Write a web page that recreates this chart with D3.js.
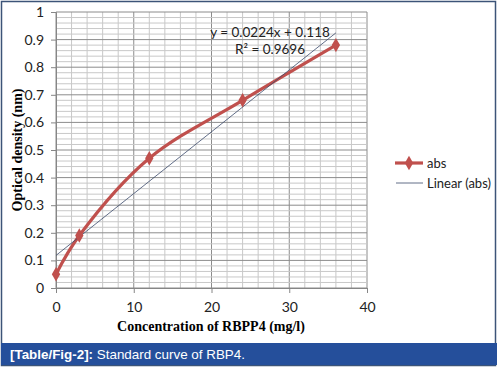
<!DOCTYPE html>
<html>
<head>
<meta charset="utf-8">
<script src="https://cdn.jsdelivr.net/npm/d3@7.9.0/dist/d3.min.js"></script>
<style>
  body { margin: 0; background: #fff; }
  svg { display: block; }
</style>
</head>
<body>
<svg id="chart" width="498" height="368"></svg>
<script>
// data
const concentration = [0, 3, 12, 24, 36];
const absorbance    = [0.05, 0.19, 0.47, 0.68, 0.88];
const xTicks        = [0, 10, 20, 30, 40];
const yTicks        = [0, 0.1, 0.2, 0.3, 0.4, 0.5, 0.6, 0.7, 0.8, 0.9, 1];
const slope         = 0.0224;
const intercept     = 0.118;
const equationLabel = 'y = 0.0224x + 0.118';
const r2Label       = 'R² = 0.9696';

const svg = d3.select('#chart');
const red = '#c0504d';

const x = d3.scaleLinear().domain([0, 40]).range([56, 367]);
const y = d3.scaleLinear().domain([0, 1]).range([288, 12]);

// outer frame + caption bar
svg.append('rect')
   .attr('x', 1.5).attr('y', 1.5).attr('width', 494).attr('height', 364)
   .attr('fill', '#fff').attr('stroke', '#3c5478').attr('stroke-width', 1.5);

svg.append('rect')
   .attr('x', 1).attr('y', 343).attr('width', 496).attr('height', 22)
   .attr('fill', '#254f9b');

const cap = svg.append('text')
   .attr('x', 10).attr('y', 359)
   .attr('font-family', 'Liberation Sans, Arial, sans-serif')
   .attr('font-size', 13.4).attr('fill', '#fff');
cap.append('tspan').attr('font-weight', 'bold').text('[Table/Fig-2]:');
cap.append('tspan').text(' Standard curve of RBP4.');

// grid
const g = svg.append('g');
g.selectAll('.vmin').data(d3.range(0, 41, 2))
  .join('line')
  .attr('x1', d => x(d)).attr('x2', d => x(d))
  .attr('y1', y(1)).attr('y2', y(0))
  .attr('stroke', d => d % 10 === 0 ? '#8c8c8c' : '#c8c8c8')
  .attr('stroke-width', 1);

g.selectAll('.hmin').data(d3.range(0, 51).map(i => i / 50))
  .join('line')
  .attr('x1', x(0)).attr('x2', x(40))
  .attr('y1', d => y(d)).attr('y2', d => y(d))
  .attr('stroke', (d, i) => i % 5 === 0 ? '#8c8c8c' : '#c8c8c8')
  .attr('stroke-width', 1);

// axes
const xAxis = svg.append('g')
  .attr('transform', `translate(0,${y(0)})`)
  .call(d3.axisBottom(x).tickValues(xTicks).tickSize(5).tickPadding(9));
const yAxis = svg.append('g')
  .attr('transform', `translate(${x(0)},0)`)
  .call(d3.axisLeft(y).tickValues(yTicks).tickSize(5).tickPadding(7)
    .tickFormat(d => d3.format('')(+d.toFixed(1))));

[xAxis, yAxis].forEach(a => {
  a.select('.domain').attr('stroke', '#868686');
  a.selectAll('.tick line').attr('stroke', '#868686');
  a.selectAll('text')
   .attr('font-family', 'Lato, Open Sans, sans-serif')
   .attr('font-size', 14).attr('fill', '#222');
});

// axis titles
svg.append('text')
   .attr('x', 211).attr('y', 331)
   .attr('text-anchor', 'middle')
   .attr('font-family', 'Liberation Serif, serif')
   .attr('font-weight', 'bold').attr('font-size', 14)
   .text('Concentration of RBPP4 (mg/l)');

svg.append('text')
   .attr('transform', 'translate(22,150) rotate(-90)')
   .attr('text-anchor', 'middle')
   .attr('font-family', 'Liberation Serif, serif')
   .attr('font-weight', 'bold').attr('font-size', 14)
   .text('Optical density (nm)');

// data series
const pts = concentration.map((c, i) => [c, absorbance[i]]);

svg.append('path')
   .datum(pts)
   .attr('d', d3.line().x(d => x(d[0])).y(d => y(d[1])).curve(d3.curveCatmullRom.alpha(0.5)))
   .attr('fill', 'none').attr('stroke', red).attr('stroke-width', 3.2);

// linear trendline
const xEnds = [0, 36];
svg.append('line')
   .attr('x1', x(xEnds[0])).attr('y1', y(slope * xEnds[0] + intercept))
   .attr('x2', x(xEnds[1])).attr('y2', y(slope * xEnds[1] + intercept))
   .attr('stroke', '#3b4a6b').attr('stroke-width', 0.8);

const diamond = d3.symbol().type(d3.symbolDiamond).size(60);
svg.selectAll('.pt').data(pts)
  .join('path')
  .attr('transform', d => `translate(${x(d[0])},${y(d[1])})`)
  .attr('d', diamond)
  .attr('fill', red);

// equation label
svg.append('text')
   .attr('x', 270).attr('y', 37).attr('text-anchor', 'middle')
   .attr('font-family', 'Lato, Open Sans, sans-serif').attr('font-size', 13.5)
   .attr('fill', '#222').text(equationLabel);
svg.append('text')
   .attr('x', 270).attr('y', 54).attr('text-anchor', 'middle')
   .attr('font-family', 'Lato, Open Sans, sans-serif').attr('font-size', 13.5)
   .attr('fill', '#222').text(r2Label);

// legend
const leg = svg.append('g').attr('font-family', 'Lato, Open Sans, sans-serif').attr('font-size', 13).attr('fill', '#222');
leg.append('line').attr('x1', 395).attr('x2', 423).attr('y1', 163).attr('y2', 163)
   .attr('stroke', red).attr('stroke-width', 3.2);
leg.append('path').attr('transform', 'translate(409,163)').attr('d', diamond).attr('fill', red);
leg.append('text').attr('x', 427).attr('y', 167.5).text('abs');
leg.append('line').attr('x1', 396).attr('x2', 423).attr('y1', 183).attr('y2', 183)
   .attr('stroke', '#3b4a6b').attr('stroke-width', 0.8);
leg.append('text').attr('x', 427).attr('y', 187.5).text('Linear (abs)');
</script>
</body>
</html>
